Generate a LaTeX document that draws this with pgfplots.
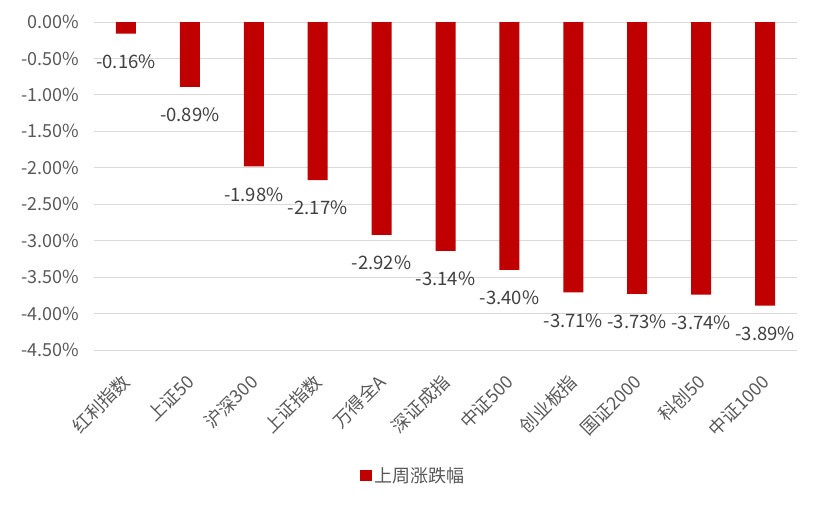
\documentclass[border=0pt]{standalone}
\usepackage{fontspec}
\setmainfont{Noto Sans CJK SC}
\usepackage{pgfplots}
\pgfplotsset{compat=1.18}
\definecolor{barred}{HTML}{C00000}
\definecolor{gridgray}{HTML}{D9D9D9}
\definecolor{ticktext}{HTML}{595959}
\definecolor{labeltext}{HTML}{404040}

\begin{document}
\begin{tikzpicture}
\path[use as bounding box] (-94bp,-158bp) rectangle (727bp,350bp);
\begin{axis}[
    at={(0,0)}, anchor=south west,
    scale only axis,
    width=703bp, height=328bp,
    ybar, bar width=20bp,
    ymin=-4.5, ymax=0,
    ytick distance=0.5,
    xmin=-0.5, xmax=10.5,
    xtick={0,...,10},
    xticklabels={红利指数,上证50,沪深300,上证指数,万得全A,深证成指,中证500,创业板指,国证2000,科创50,中证1000},
    x tick label style={xshift=3bp, yshift=-26bp, rotate=45, anchor=east, text=ticktext,
        font=\fontsize{18bp}{20bp}\selectfont},
    y tick label style={text=ticktext, xshift=-11bp, font=\fontsize{18bp}{20bp}\selectfont},
    yticklabel={\pgfmathprintnumber[fixed,precision=2,fixed zerofill]{\tick}\%},
    /pgf/number format/assume math mode=true,
    axis line style={draw=none},
    major tick length=0pt,
    ymajorgrids,
    grid style={gridgray, line width=1bp},
    legend style={draw=none, at={(0.454,-0.384)}, anchor=center,
        font=\fontsize{18bp}{20bp}\selectfont, text=ticktext},
]
\addplot[fill=barred, draw=none, point meta=y,
    nodes near coords={\pgfmathprintnumber[fixed,precision=2,fixed zerofill]{\pgfplotspointmeta}\%},
    nodes near coords style={anchor=center, yshift=-28bp, text=labeltext,
        font=\fontsize{18.5bp}{20bp}\selectfont},
    legend image code/.code={\fill[barred] (0bp,-5.5bp) rectangle (12bp,5.5bp);}]
coordinates {(0,-0.16) (1,-0.89) (2,-1.98) (3,-2.17) (4,-2.92) (5,-3.14) (6,-3.40) (7,-3.71) (8,-3.73) (9,-3.74) (10,-3.89)};
\legend{上周涨跌幅}
\end{axis}
\end{tikzpicture}
\end{document}
